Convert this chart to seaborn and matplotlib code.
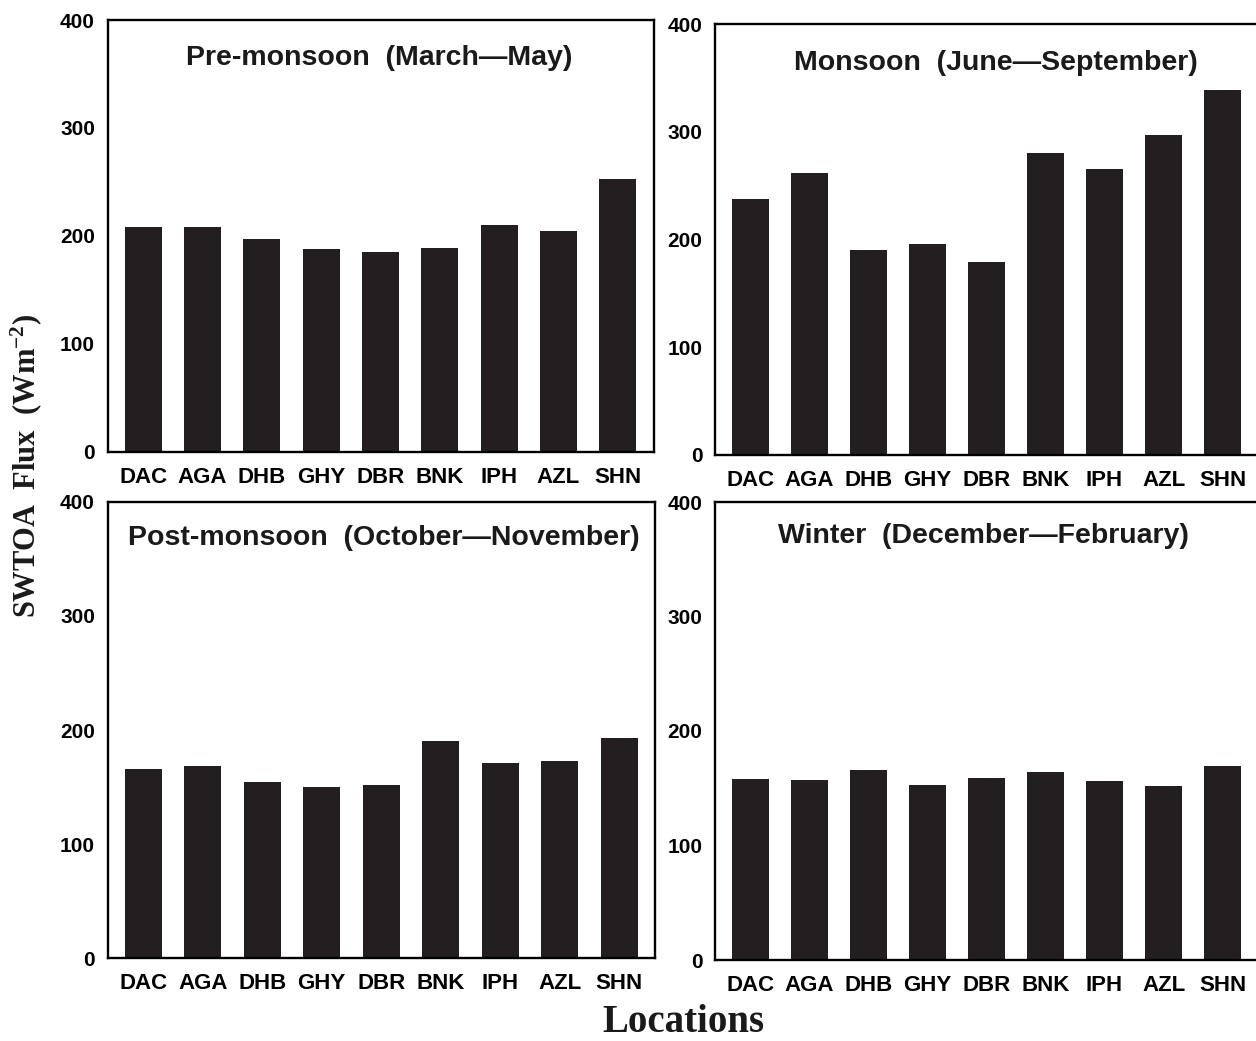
import matplotlib
matplotlib.use("Agg")
import matplotlib.pyplot as plt
import seaborn as sns
import pandas as pd

# Station codes along the x axis
locations = ["DAC", "AGA", "DHB", "GHY", "DBR", "BNK", "IPH", "AZL", "SHN"]

# Seasonal mean shortwave TOA flux (W m^-2) per station
pre_monsoon = [208, 208, 197, 188, 185, 189, 210, 204, 253]
monsoon = [238, 262, 190, 196, 179, 280, 265, 297, 339]
post_monsoon = [166, 168, 154, 150, 152, 190, 171, 173, 193]
winter = [158, 157, 166, 153, 159, 164, 156, 152, 169]

season_titles = [
    "Pre-monsoon  (March\u2014May)",
    "Monsoon  (June\u2014September)",
    "Post-monsoon  (October\u2014November)",
    "Winter  (December\u2014February)",
]
y_ticks = [0, 100, 200, 300, 400]

sns.set_theme(style="white")
plt.rcParams["font.family"] = ["Liberation Sans", "DejaVu Sans"]
plt.rcParams["font.weight"] = "bold"
plt.rcParams["mathtext.fontset"] = "custom"
plt.rcParams["mathtext.rm"] = "Liberation Serif:bold"
plt.rcParams["mathtext.bf"] = "Liberation Serif:bold"
plt.rcParams["mathtext.it"] = "Liberation Serif:bold:italic"

W, H = 1256, 1041
fig = plt.figure(figsize=(W / 100, H / 100), dpi=100)

# panel boxes in pixel units: left, top, right, bottom
boxes = [
    (107.5, 20, 653.5, 451.5),
    (715, 24, 1258, 455),
    (107.5, 502, 655, 958),
    (715, 502, 1258, 960),
]
# title anchor (axes fraction x, baseline y)
title_pos = [(0.498, 0.896), (0.517, 0.893), (0.505, 0.906), (0.495, 0.910)]
series = [pre_monsoon, monsoon, post_monsoon, winter]
bar_color = "#231f20"

for (l, t, r, b), vals, title, (tx, ty) in zip(boxes, series, season_titles, title_pos):
    ax = fig.add_axes([l / W, 1 - b / H, (r - l) / W, (b - t) / H])
    df = pd.DataFrame({"loc": locations, "flux": vals})
    sns.barplot(data=df, x="loc", y="flux", ax=ax, color=bar_color,
                saturation=1, width=0.62, edgecolor="none")
    ax.set_xlim(-0.6, 8.6)
    ax.set_ylim(0, 400)
    ax.set_yticks(y_ticks)
    ax.set_yticklabels([str(v) for v in y_ticks], fontsize=15, fontweight="bold")
    ax.set_xticks(range(len(locations)))
    ax.set_xticklabels(locations, fontsize=16, fontweight="bold")
    ax.tick_params(axis="y", direction="in", length=5, width=1.5, pad=9, colors="black")
    ax.tick_params(axis="x", length=0, pad=11, colors="black")
    ax.set_xlabel("")
    ax.set_ylabel("")
    for s in ax.spines.values():
        s.set_visible(True)
        s.set_color("black")
        s.set_linewidth(1.7)
    ax.text(tx, ty, title, transform=ax.transAxes, ha="center", va="baseline",
            fontsize=20.5, fontweight="bold", color="#1a1a1a")

fig.text(0.021, 1 - 466 / H, r"SWTOA  Flux  (Wm$^{\mathbf{-2}}$)", rotation=90,
         ha="center", va="center", fontsize=22, fontweight="bold",
         family=["Liberation Serif", "DejaVu Serif"], color="#1a1a1a")
fig.text(683 / W, 1 - 1022 / H, "Locations", ha="center", va="center",
         fontsize=28, fontweight="bold",
         family=["Liberation Serif", "DejaVu Serif"], color="#1a1a1a")

fig.savefig("out.png", dpi=100, facecolor="white")
